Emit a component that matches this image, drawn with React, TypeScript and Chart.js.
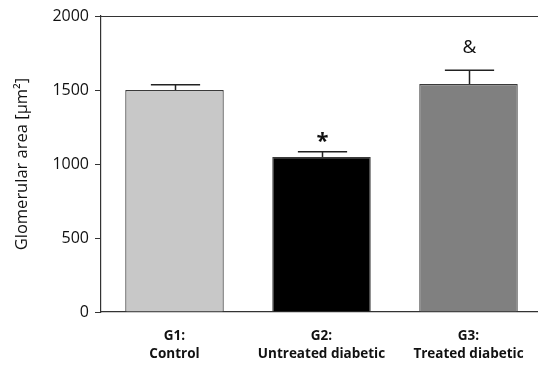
import React, { useEffect, useRef } from "react";
import { Chart, registerables } from "chart.js";

Chart.register(...registerables);

const categories: string[][] = [["G1:", "Control"], ["G2:", "Untreated diabetic"], ["G3:", "Treated diabetic"]];
const means: number[] = [1500, 1047, 1540];
const errors: number[] = [36, 36, 93];
const marks: string[] = ["", "*", "&"];
const barColors: string[] = ["#c8c8c8", "#000000", "#808080"];
const yTicks: number[] = [0, 500, 1000, 1500, 2000];

const FONT = "'Open Sans', 'Noto Sans', sans-serif";

const extrasPlugin = {
  id: "extras",
  afterDatasetsDraw(chart: any) {
    const ctx = chart.ctx;
    const meta = chart.getDatasetMeta(0);
    const y = chart.scales.y;
    const area = chart.chartArea;
    ctx.save();
    // top border
    ctx.strokeStyle = "#333";
    ctx.lineWidth = 1.2;
    ctx.beginPath();
    ctx.moveTo(area.left, Math.round(area.top) + 0.5);
    ctx.lineTo(area.right, Math.round(area.top) + 0.5);
    ctx.stroke();
    meta.data.forEach((bar: any, i: number) => {
      const x = Math.round(bar.x) + 0.5;
      const top = y.getPixelForValue(means[i] + errors[i]);
      const base = y.getPixelForValue(means[i]);
      const half = bar.width / 4;
      ctx.strokeStyle = "#222";
      ctx.lineWidth = 1.5;
      ctx.beginPath();
      ctx.moveTo(x, base);
      ctx.lineTo(x, top);
      ctx.moveTo(x - half, top);
      ctx.lineTo(x + half, top);
      ctx.stroke();
      if (marks[i]) {
        ctx.fillStyle = "#111";
        ctx.textAlign = "center";
        ctx.textBaseline = "alphabetic";
        if (marks[i] === "*") {
          ctx.font = `bold 22px ${FONT}`;
          ctx.fillText(marks[i], x, top - 4);
        } else {
          ctx.font = `19px ${FONT}`;
          ctx.fillText(marks[i], x, top - 17);
        }
      }
    });
    ctx.restore();
  },
};

export default function App() {
  const ref = useRef<HTMLCanvasElement>(null);
  useEffect(() => {
    if (!ref.current) return;
    const chart = new Chart(ref.current, {
      type: "bar",
      data: {
        labels: categories,
        datasets: [
          {
            data: means,
            backgroundColor: barColors,
            borderColor: "#3a3a3a",
            borderWidth: 1.2,
            barPercentage: 0.67,
            categoryPercentage: 1,
          },
        ],
      },
      options: {
        animation: false,
        responsive: false,
        devicePixelRatio: 1,
        layout: { padding: { top: 16, right: 4, left: 0, bottom: 0 } },
        plugins: { legend: { display: false }, tooltip: { enabled: false } },
        scales: {
          x: {
            grid: { display: false, drawTicks: true, tickLength: 6, color: "#333" } as any,
            border: { color: "#333", width: 1.2 },
            ticks: {
              color: "#111",
              font: { family: FONT, size: 13.5, weight: "bold", lineHeight: 1.35 },
              padding: 9,
              maxRotation: 0,
              autoSkip: false,
            },
            afterFit(scale: any) {
              scale.height = 55;
            },
          },
          y: {
            min: 0,
            max: 2000,
            afterBuildTicks(scale: any) {
              scale.ticks = yTicks.map((v) => ({ value: v }));
            },
            grid: { display: true, drawOnChartArea: false, tickLength: 6, color: "#333" },
            border: { color: "#333", width: 1.2 },
            ticks: {
              color: "#111",
              font: { family: FONT, size: 16 },
              padding: 6,
              callback: (v: any) => String(v),
            },
            title: {
              display: true,
              text: "Glomerular area [µm²]",
              color: "#111",
              font: { family: FONT, size: 16.5 },
              padding: { top: 12, bottom: 0 },
            },
            afterFit(scale: any) {
              scale.width = 101;
            },
          },
        },
      },
      plugins: [extrasPlugin],
    });
    return () => chart.destroy();
  }, []);
  return (
    <div style={{ position: "fixed", left: 0, top: 0, width: 538, height: 367, overflow: "hidden", background: "#fff" }}>
      <canvas ref={ref} width={546} height={367} style={{ width: 546, height: 367, display: "block" }} />
    </div>
  );
}
